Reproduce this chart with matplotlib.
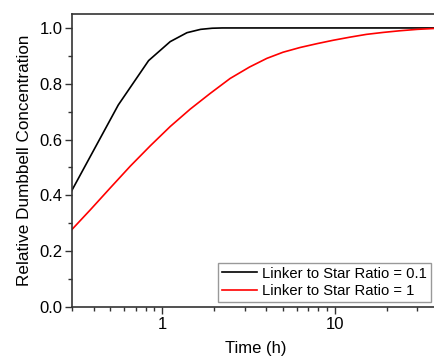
import matplotlib
matplotlib.use("Agg")
import matplotlib.pyplot as plt
from matplotlib.ticker import LogLocator, NullFormatter, MultipleLocator, FixedLocator, FixedFormatter

plt.rcParams['font.family'] = ['Liberation Sans', 'DejaVu Sans']

# Data (time in hours)
t_black = [0.278, 0.556, 0.833, 1.111, 1.389, 1.667, 1.944, 2.222, 2.5, 40]
y_black = [0.381, 0.724, 0.883, 0.951, 0.983, 0.995, 0.999, 1.0, 1.0, 1.0]

t_red = [0.3, 0.384, 0.5, 0.653, 0.853, 1.112, 1.45, 1.89, 2.47, 3.2, 4.03,
         5.0, 6.28, 7.9, 9.78, 12.2, 15.2, 19, 23.8, 30, 40]
y_red = [0.278, 0.349, 0.427, 0.505, 0.578, 0.647, 0.709, 0.765, 0.819, 0.860,
         0.891, 0.913, 0.930, 0.944, 0.956, 0.967, 0.977, 0.984, 0.990, 0.995,
         0.999]

labels = ["Linker to Star Ratio = 0.1", "Linker to Star Ratio = 1"]
yticks = [0.0, 0.2, 0.4, 0.6, 0.8, 1.0]
xticks = [1, 10]
xticklabels = ["1", "10"]

fig = plt.figure(figsize=(4.34, 3.6), dpi=100)
ax = fig.add_axes([72/434, 53/360, 367/434, 293/360])

ax.plot(t_black, y_black, color='black', lw=1.2, label=labels[0])
ax.plot(t_red, y_red, color='red', lw=1.2, label=labels[1])

ax.set_xscale('log')
ax.set_xlim(0.3, 40)
ax.set_ylim(0, 1.05)

ax.xaxis.set_major_locator(FixedLocator(xticks))
ax.xaxis.set_major_formatter(FixedFormatter(xticklabels))
ax.xaxis.set_minor_locator(LogLocator(base=10, subs=range(2, 10)))
ax.xaxis.set_minor_formatter(NullFormatter())
ax.set_yticks(yticks)
ax.yaxis.set_major_formatter(matplotlib.ticker.FormatStrFormatter('%.1f'))
ax.yaxis.set_minor_locator(MultipleLocator(0.1))

spine_color = '#333333'
for s in ax.spines.values():
    s.set_color(spine_color)
    s.set_linewidth(1.2)

ax.tick_params(which='both', direction='out', color=spine_color, width=1.0,
               labelsize=12, top=False, right=False)
ax.tick_params(which='major', length=5, pad=2)
ax.tick_params(which='minor', length=3)

ax.set_xlabel("Time (h)", fontsize=12, labelpad=7)
ax.set_ylabel("Relative Dumbbell Concentration", fontsize=12.3, labelpad=5)

leg = ax.legend(loc='lower right', bbox_to_anchor=(431/434, 58/360),
                bbox_transform=fig.transFigure, borderaxespad=0,
                fontsize=10.6, fancybox=False, framealpha=1, edgecolor='#999999',
                handlelength=2.4, handletextpad=0.35, labelspacing=0.25,
                borderpad=0.25)
leg.get_frame().set_linewidth(1.0)

fig.savefig("out.png", dpi=100)
